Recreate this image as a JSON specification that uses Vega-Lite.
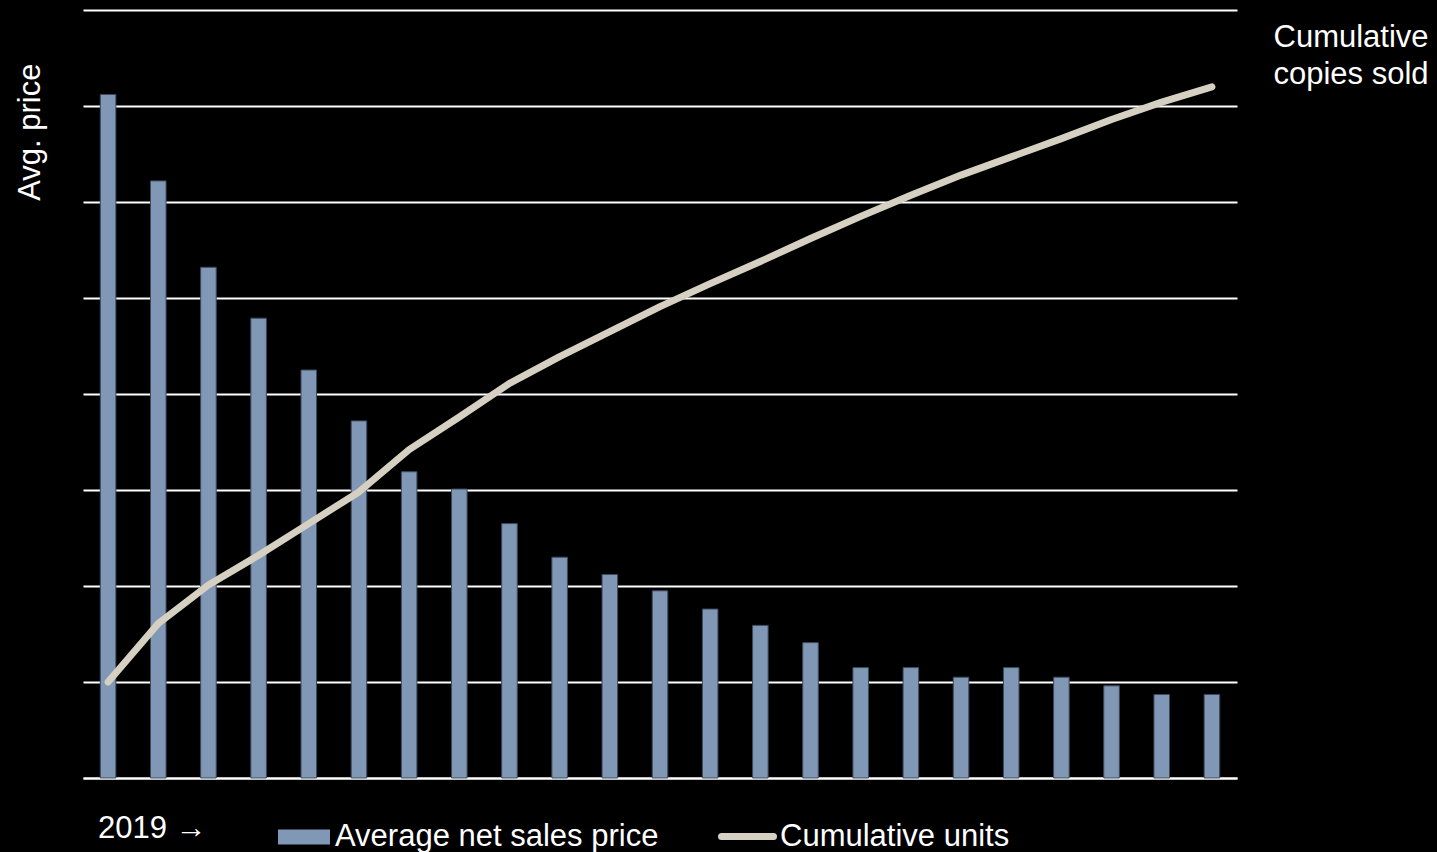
{
  "$schema": "https://vega.github.io/schema/vega-lite/v6.json",
  "width": 1154,
  "height": 768,
  "autosize": {"type": "none"},
  "padding": {"left": 83, "top": 10, "right": 200, "bottom": 74},
  "background": "#000000",
  "config": {
    "view": {"stroke": null},
    "font": "Liberation Sans",
    "axis": {"titleFont": "Liberation Sans", "labelFont": "Liberation Sans", "titleFontWeight": "normal"},
    "legend": {"labelFont": "Liberation Sans", "labelLimit": 800}
  },
  "data": {
    "values": [
      {"period": 1, "price": 71.2, "units": 1.0},
      {"period": 2, "price": 62.2, "units": 1.61},
      {"period": 3, "price": 53.2, "units": 2.01},
      {"period": 4, "price": 47.9, "units": 2.32},
      {"period": 5, "price": 42.5, "units": 2.65},
      {"period": 6, "price": 37.2, "units": 2.98},
      {"period": 7, "price": 31.9, "units": 3.42},
      {"period": 8, "price": 30.1, "units": 3.76},
      {"period": 9, "price": 26.5, "units": 4.11},
      {"period": 10, "price": 23.0, "units": 4.39},
      {"period": 11, "price": 21.2, "units": 4.65},
      {"period": 12, "price": 19.5, "units": 4.91},
      {"period": 13, "price": 17.6, "units": 5.15},
      {"period": 14, "price": 15.9, "units": 5.38},
      {"period": 15, "price": 14.1, "units": 5.62},
      {"period": 16, "price": 11.5, "units": 5.85},
      {"period": 17, "price": 11.5, "units": 6.07},
      {"period": 18, "price": 10.5, "units": 6.28},
      {"period": 19, "price": 11.5, "units": 6.47},
      {"period": 20, "price": 10.5, "units": 6.66},
      {"period": 21, "price": 9.6, "units": 6.86},
      {"period": 22, "price": 8.7, "units": 7.04},
      {"period": 23, "price": 8.7, "units": 7.2}
    ]
  },
  "encoding": {
    "x": {
      "field": "period",
      "type": "ordinal",
      "scale": {"paddingInner": 0.69, "paddingOuter": 0.345},
      "axis": {
        "title": null,
        "labelAngle": 0,
        "ticks": false,
        "domain": true,
        "domainColor": "#ffffff",
        "domainWidth": 2,
        "labelExpr": "datum.value == 1 ? '2019 \u2192' : ''",
        "labelAlign": "left",
        "labelOffset": -10,
        "labelBaseline": "alphabetic",
        "labelPadding": 59,
        "labelFontSize": 31,
        "labelColor": "#ffffff",
        "labelOverlap": false
      }
    }
  },
  "layer": [
    {
      "mark": {"type": "bar", "stroke": "#3c4a5e", "strokeWidth": 1},
      "encoding": {
        "y": {
          "field": "price",
          "type": "quantitative",
          "scale": {"domain": [0, 80], "nice": false},
          "axis": {
            "title": "Avg. price",
            "titleColor": "#ffffff",
            "titleFontSize": 31,
            "titleAngle": 270,
            "titleAlign": "right",
            "titleBaseline": "middle",
            "titleX": -53,
            "titleY": 53,
            "values": [0, 10, 20, 30, 40, 50, 60, 70, 80],
            "grid": true,
            "gridColor": "#ffffff",
            "gridWidth": 2,
            "labels": false,
            "ticks": false,
            "domain": false
          }
        },
        "fill": {
          "datum": "Average net sales price",
          "type": "nominal",
          "scale": {"domain": ["Average net sales price"], "range": ["#8097b5"]},
          "legend": {
            "title": null,
            "orient": "none",
            "legendX": 195,
            "legendY": 801,
            "padding": 0,
            "symbolType": "M-1,-0.29H1V0.29H-1Z",
            "symbolSize": 2704,
            "symbolStrokeWidth": 0,
            "labelFontSize": 31,
            "labelColor": "#ffffff",
            "labelOffset": 5,
            "labelLimit": 800
          }
        }
      }
    },
    {
      "mark": {"type": "line", "strokeWidth": 7, "strokeCap": "round", "strokeJoin": "round"},
      "encoding": {
        "y": {
          "field": "units",
          "type": "quantitative",
          "scale": {"domain": [0, 8], "nice": false},
          "axis": {
            "orient": "right",
            "title": ["Cumulative", "copies sold"],
            "titleColor": "#ffffff",
            "titleFontSize": 31,
            "titleAngle": 0,
            "titleAlign": "left",
            "titleBaseline": "top",
            "titleLineHeight": 37,
            "titleX": 36,
            "titleY": 12,
            "grid": false,
            "labels": false,
            "ticks": false,
            "domain": false
          }
        },
        "stroke": {
          "datum": "Cumulative units",
          "type": "nominal",
          "scale": {"domain": ["Cumulative units"], "range": ["#d5d0c2"]},
          "legend": {
            "title": null,
            "orient": "none",
            "legendX": 635,
            "legendY": 797,
            "padding": 0,
            "symbolType": "stroke",
            "symbolSize": 2704,
            "symbolStrokeWidth": 7,
            "labelFontSize": 31,
            "labelColor": "#ffffff",
            "labelOffset": 3,
            "labelLimit": 800,
            "encode": {"symbols": {"update": {"strokeCap": {"value": "round"}}}}
          }
        }
      }
    }
  ],
  "resolve": {"scale": {"y": "independent", "fill": "independent", "stroke": "independent"}}
}
